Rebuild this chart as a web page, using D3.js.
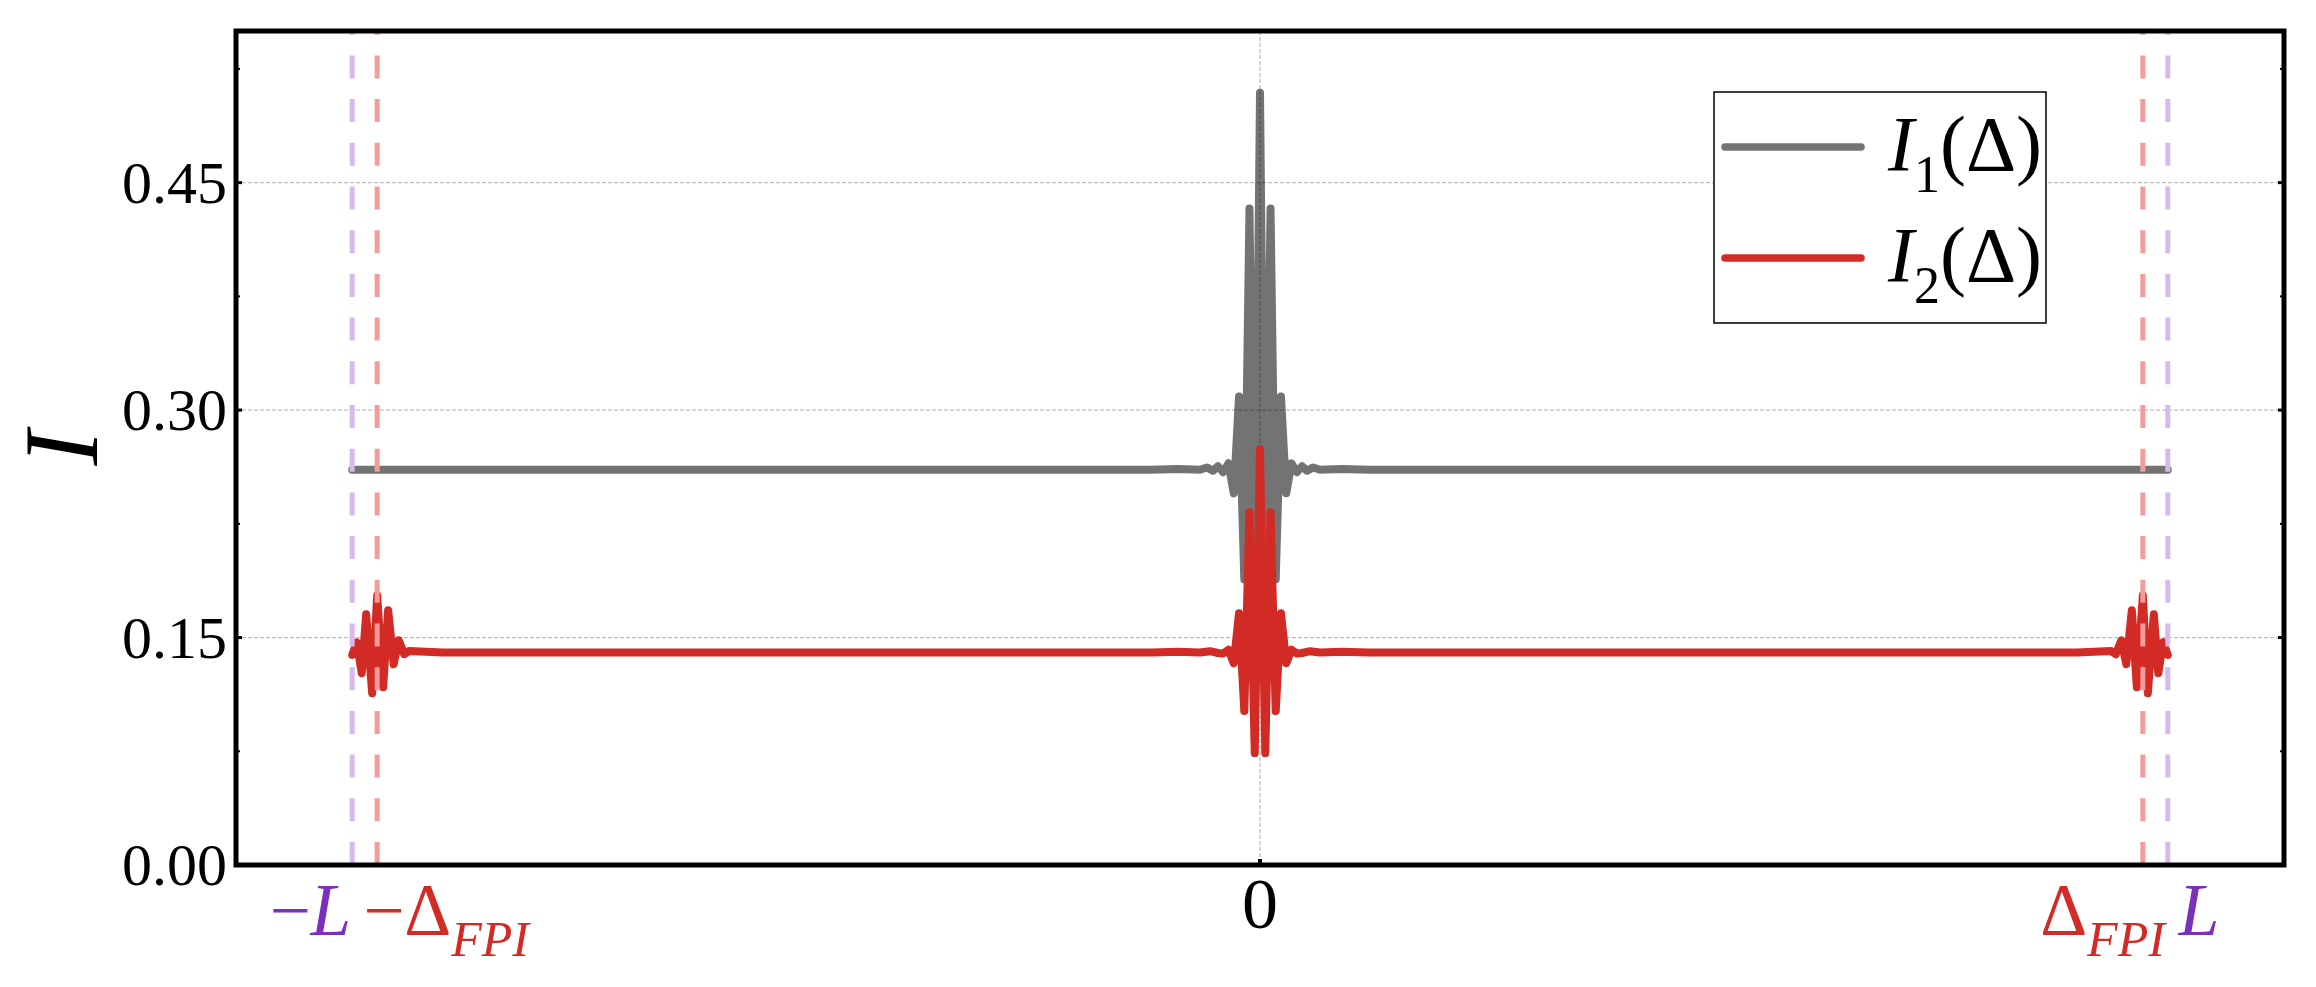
<!DOCTYPE html>
<html>
<head>
<meta charset="utf-8">
<script src="https://cdn.jsdelivr.net/npm/d3@7"></script>
<style>
  body { margin: 0; background: #fff; }
  text { font-family: "Liberation Serif", "Times New Roman", serif; }
</style>
</head>
<body>
<div id="chart"></div>
<script>
// values, x in units of L
const L = 1.0;
const deltaFPI = 0.9725;
const xLimits = [-1.128, 1.128];
const yLimits = [0, 0.55];
const yTicks = [0.00, 0.15, 0.30, 0.45];
const yTickLabels = ["0.00", "0.15", "0.30", "0.45"];
const yMinorTicks = [0.075, 0.225, 0.375, 0.525];

// I1(Delta), grey
const i1X = [-1.000, -0.500, -0.200, -0.120, -0.090,
  -0.0661, -0.0584, -0.0518, -0.0463, -0.0407, -0.0347, -0.0289, -0.0231, -0.0173, -0.0116, -0.0058,
  0,
  0.0058, 0.0116, 0.0173, 0.0231, 0.0289, 0.0347, 0.0407, 0.0463, 0.0518, 0.0584, 0.0661,
  0.090, 0.120, 0.200, 0.500, 1.000];
const i1Y = [0.2607, 0.2607, 0.2607, 0.2607, 0.2612,
  0.2606, 0.2622, 0.2600, 0.2630, 0.2590, 0.2649, 0.2451, 0.3090, 0.1884, 0.4329, 0.1550,
  0.5093,
  0.1550, 0.4329, 0.1884, 0.3090, 0.2451, 0.2649, 0.2590, 0.2630, 0.2600, 0.2622, 0.2606,
  0.2612, 0.2607, 0.2607, 0.2607, 0.2607];

// I2(Delta), red
const i2X = [-1.0000, -0.9950, -0.9895, -0.9846, -0.9780, -0.9725, -0.9659, -0.9604, -0.9543, -0.9488, -0.9427, -0.9372,
  -0.900, -0.500, -0.120, -0.090,
  -0.0661, -0.0551, -0.0463, -0.0405, -0.0347, -0.0289, -0.0231, -0.0173, -0.0116, -0.0058,
  0,
  0.0058, 0.0116, 0.0173, 0.0231, 0.0289, 0.0347, 0.0405, 0.0463, 0.0551, 0.0661,
  0.090, 0.120, 0.500, 0.900,
  0.9372, 0.9427, 0.9488, 0.9543, 0.9604, 0.9659, 0.9725, 0.9780, 0.9846, 0.9895, 0.9950, 1.0000];
const i2Y = [0.1385, 0.1469, 0.1265, 0.1654, 0.1133, 0.1779, 0.1173, 0.1680, 0.1324, 0.1482, 0.1390, 0.1412,
  0.1402, 0.1402, 0.1402, 0.1406,
  0.1401, 0.1410, 0.1398, 0.1395, 0.1420, 0.1331, 0.1660, 0.1015, 0.2326, 0.0738,
  0.2741,
  0.0738, 0.2326, 0.1015, 0.1660, 0.1331, 0.1420, 0.1395, 0.1398, 0.1410, 0.1401,
  0.1406, 0.1402, 0.1402, 0.1402,
  0.1412, 0.1390, 0.1482, 0.1324, 0.1680, 0.1173, 0.1779, 0.1133, 0.1654, 0.1265, 0.1469, 0.1385];

const grey = "#737373", red = "#d22a24";
const purple = "#7b2fbd", lightPurple = "#d7b9ec", lightRed = "#f59b9b";

const W = 2316, H = 987;
const margin = { top: 31, right: 32, bottom: 122, left: 236 };
const width = W - margin.left - margin.right,
      height = H - margin.top - margin.bottom;

const svg = d3.select("#chart").append("svg")
    .attr("width", W)
    .attr("height", H)
    .style("background", "#fff");

const g = svg.append("g")
    .attr("transform", `translate(${margin.left},${margin.top})`);

const x = d3.scaleLinear().domain(xLimits).range([0, width]);
const y = d3.scaleLinear().domain(yLimits).range([height, 0]);

const line = d3.line()
    .x(d => x(d[0]))
    .y(d => y(d[1]));

const i1 = i1X.map((v, i) => [v, i1Y[i]]);
const i2 = i2X.map((v, i) => [v, i2Y[i]]);

// grey curve sits under the grid
g.append("path")
    .attr("d", line(i1))
    .attr("fill", "none")
    .attr("stroke", grey)
    .attr("stroke-width", 8)
    .attr("stroke-linejoin", "round")
    .attr("stroke-linecap", "round");

// grid
g.append("g")
  .selectAll("line")
  .data(yTicks.slice(1))
  .join("line")
    .attr("x1", 0).attr("x2", width)
    .attr("y1", d => y(d)).attr("y2", d => y(d))
    .attr("stroke", "#000")
    .attr("stroke-opacity", 0.25)
    .attr("stroke-width", 1.3)
    .attr("stroke-dasharray", "4,2");

g.append("line")
    .attr("x1", x(0)).attr("x2", x(0))
    .attr("y1", 0).attr("y2", height)
    .attr("stroke", "#000")
    .attr("stroke-opacity", 0.25)
    .attr("stroke-width", 1.3)
    .attr("stroke-dasharray", "4,2");

g.append("path")
    .attr("d", line(i2))
    .attr("fill", "none")
    .attr("stroke", red)
    .attr("stroke-width", 8)
    .attr("stroke-linejoin", "round")
    .attr("stroke-linecap", "round");

// markers for +-L and +-Delta_FPI
const vlines = [
  { v: -L, c: lightPurple }, { v: L, c: lightPurple },
  { v: -deltaFPI, c: lightRed }, { v: deltaFPI, c: lightRed }
];
g.append("g")
  .selectAll("line")
  .data(vlines)
  .join("line")
    .attr("x1", d => x(d.v)).attr("x2", d => x(d.v))
    .attr("y1", height).attr("y2", 0)
    .attr("stroke", d => d.c)
    .attr("stroke-width", 5)
    .attr("stroke-dasharray", "23,20.7");

// ticks (inside)
const ticks = g.append("g").attr("stroke", "#000");
yTicks.forEach(t => {
  ticks.append("line").attr("x1", 0).attr("x2", 6).attr("y1", y(t)).attr("y2", y(t)).attr("stroke-width", 3);
  ticks.append("line").attr("x1", width).attr("x2", width - 6).attr("y1", y(t)).attr("y2", y(t)).attr("stroke-width", 3);
});
yMinorTicks.forEach(t => {
  ticks.append("line").attr("x1", 0).attr("x2", 4).attr("y1", y(t)).attr("y2", y(t)).attr("stroke-width", 2);
  ticks.append("line").attr("x1", width).attr("x2", width - 4).attr("y1", y(t)).attr("y2", y(t)).attr("stroke-width", 2);
});
ticks.append("line").attr("x1", x(0)).attr("x2", x(0)).attr("y1", height).attr("y2", height - 6).attr("stroke-width", 4);

// frame
g.append("rect")
    .attr("width", width)
    .attr("height", height)
    .attr("fill", "none")
    .attr("stroke", "#000")
    .attr("stroke-width", 5);

// y tick labels
g.append("g")
  .selectAll("text")
  .data(yTicks)
  .join("text")
    .attr("x", -9)
    .attr("y", d => y(d) + 20)
    .attr("text-anchor", "end")
    .attr("font-size", 60)
    .text((d, i) => yTickLabels[i]);

// y label
svg.append("text")
    .attr("transform", `translate(97,${margin.top + height / 2}) rotate(-90)`)
    .attr("text-anchor", "middle")
    .attr("font-size", 105)
    .attr("font-style", "italic")
    .text("I");

// x tick labels
const xl = g.append("g").attr("font-size", 73);
const base = height + 70;

xl.append("text")
    .attr("x", x(0)).attr("y", height + 63)
    .attr("text-anchor", "middle")
    .attr("font-size", 72)
    .text("0");

const mL = xl.append("text")
    .attr("x", x(-L) - 1).attr("y", base)
    .attr("text-anchor", "end")
    .attr("fill", purple);
mL.append("tspan").text("\u2212");
mL.append("tspan").attr("font-style", "italic").text("L");

const mD = xl.append("text")
    .attr("x", x(-deltaFPI) - 14).attr("y", base)
    .attr("text-anchor", "start")
    .attr("fill", red);
mD.append("tspan").text("\u2212\u0394");
mD.append("tspan").attr("font-style", "italic").attr("font-size", 50).attr("dy", 21).text("FPI");

const pD = xl.append("text")
    .attr("x", x(deltaFPI) + 22).attr("y", base)
    .attr("text-anchor", "end")
    .attr("fill", red);
pD.append("tspan").text("\u0394");
pD.append("tspan").attr("font-style", "italic").attr("font-size", 50).attr("dy", 21).text("FPI");

xl.append("text")
    .attr("x", x(L) + 11).attr("y", base)
    .attr("text-anchor", "start")
    .attr("fill", purple)
    .attr("font-style", "italic")
    .text("L");

// legend
const legend = svg.append("g").attr("transform", "translate(1714,92)");
legend.append("rect")
    .attr("width", 332)
    .attr("height", 231)
    .attr("fill", "#fff")
    .attr("stroke", "#000")
    .attr("stroke-width", 1.5);

const entries = [
  { sub: "1", color: grey, y: 55 },
  { sub: "2", color: red, y: 166 }
];
entries.forEach(e => {
  legend.append("line")
      .attr("x1", 11).attr("x2", 147)
      .attr("y1", e.y).attr("y2", e.y)
      .attr("stroke", e.color)
      .attr("stroke-width", 7.5)
      .attr("stroke-linecap", "round");
  const t = legend.append("text")
      .attr("x", 174)
      .attr("y", e.y + 23)
      .attr("font-size", 78);
  t.append("tspan").attr("font-style", "italic").text("I");
  t.append("tspan").attr("font-size", 52).attr("dy", 22).text(e.sub);
  t.append("tspan").attr("dy", -22).text("(\u0394)");
});
</script>
</body>
</html>
